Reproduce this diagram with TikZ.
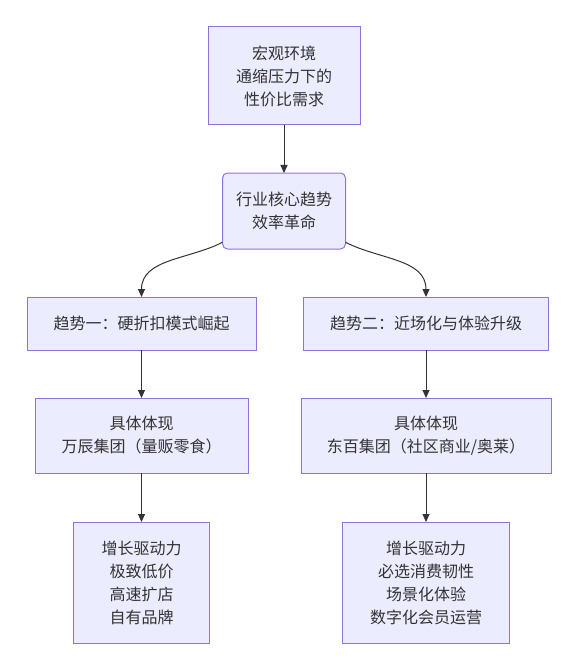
\documentclass[tikz,border=0pt]{standalone}
\usepackage{fontspec}
\usepackage{xcolor}
\usepackage{tikz}
\usetikzlibrary{arrows.meta,positioning}
\newfontfamily\cjk{Noto Sans CJK SC}
\definecolor{boxfill}{HTML}{ECECFF}
\definecolor{boxline}{HTML}{9370DB}
\definecolor{inkgray}{HTML}{333333}
\tikzset{
  flowbox/.style={
    draw=boxline, fill=boxfill, line width=1pt,
    font=\cjk\fontsize{16}{23}\selectfont, text=inkgray, align=center,
    inner sep=0pt, outer sep=0pt,
  },
  arrow/.style={-{Triangle[length=8pt,width=7pt]}, line width=1pt, color=inkgray},
}

\begin{document}
\begin{tikzpicture}

  \useasboundingbox (0,0) rectangle (578pt,-671pt);

  \node[flowbox, minimum width=152pt, minimum height=98pt] (macro)
    at (284pt,-76pt) {宏观环境\\通缩压力下的\\性价比需求};

  \node[flowbox, rounded corners=5pt, minimum width=123pt, minimum height=76pt,
        below=48pt of macro] (core)
    {行业核心趋势\\效率革命};

  \node[flowbox, minimum width=229pt, minimum height=53pt,
        below=48pt of core, xshift=-142.5pt] (trendA)
    {趋势一：硬折扣模式崛起};

  \node[flowbox, minimum width=245pt, minimum height=53pt,
        below=48pt of core, xshift=142pt] (trendB)
    {趋势二：近场化与体验升级};

  \node[flowbox, minimum width=213pt, minimum height=75pt,
        below=48pt of trendA] (caseA)
    {具体体现\\万辰集团（量贩零食）};

  \node[flowbox, minimum width=250pt, minimum height=75pt,
        below=48pt of trendB] (caseB)
    {具体体现\\东百集团（社区商业/奥莱）};

  \node[flowbox, minimum width=136pt, minimum height=121pt,
        below=49pt of caseA] (driveA)
    {增长驱动力\\极致低价\\高速扩店\\自有品牌};

  \node[flowbox, minimum width=167pt, minimum height=121pt,
        below=49pt of caseB] (driveB)
    {增长驱动力\\必选消费韧性\\场景化体验\\数字化会员运营};

  \draw[arrow] (macro) -- (core);
  \draw[arrow] (core) to[out=207, in=90] (trendA);
  \draw[arrow] (core) to[out=-27, in=90] (trendB);
  \draw[arrow] (trendA) -- (caseA);
  \draw[arrow] (trendB) -- (caseB);
  \draw[arrow] (caseA) -- (driveA);
  \draw[arrow] (caseB) -- (driveB);

\end{tikzpicture}
\end{document}
